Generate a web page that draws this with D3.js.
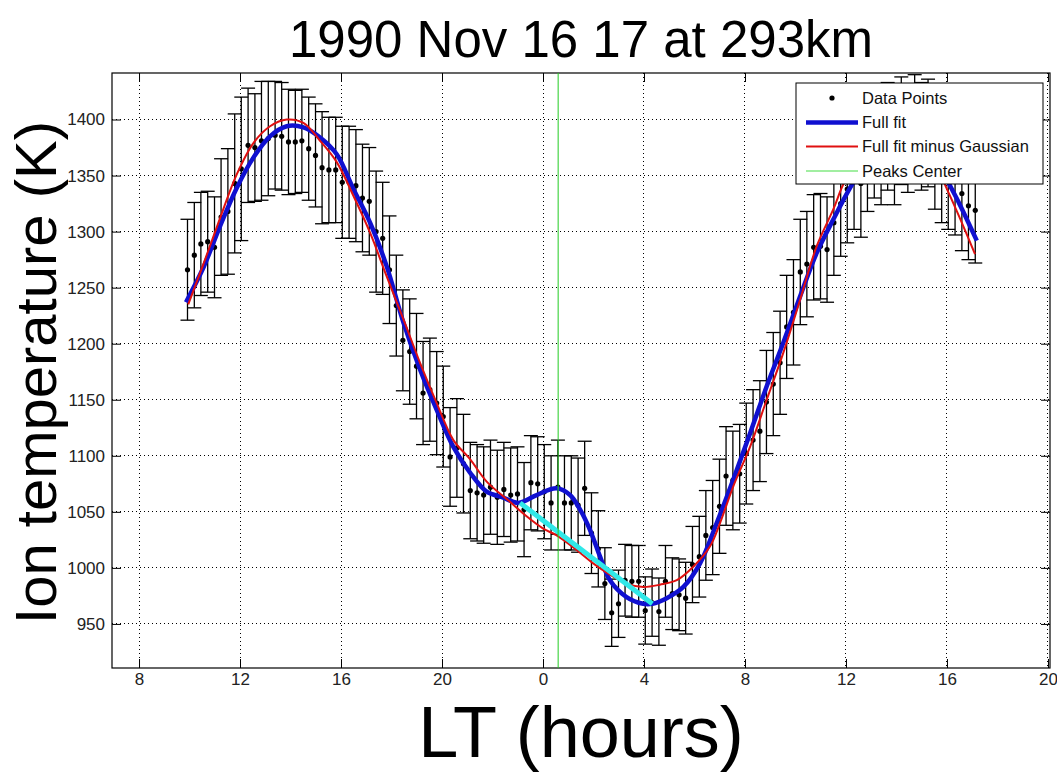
<!DOCTYPE html>
<html>
<head>
<meta charset="utf-8">
<script src="https://cdn.jsdelivr.net/npm/d3@7"></script>
<style>
  body { margin: 0; background: #fff; }
  svg text { font-family: "Liberation Sans", Arial, sans-serif; }
</style>
</head>
<body>
<div id="chart"></div>
<script>
// local time in hours (after 24 = next day)
var times = [9.92,10.19,10.45,10.72,10.99,11.25,11.52,11.79,12.05,12.32,
  12.59,12.85,13.12,13.39,13.65,13.92,14.19,14.45,14.72,14.99,
  15.25,15.52,15.79,16.05,16.32,16.59,16.85,17.12,17.39,17.65,
  17.92,18.19,18.45,18.72,18.99,19.25,19.52,19.79,20.05,20.32,
  20.59,20.85,21.12,21.39,21.65,21.92,22.19,22.45,22.72,22.99,
  23.25,23.52,23.79,24.05,24.32,24.59,24.85,25.12,25.39,25.65,
  25.92,26.19,26.45,26.72,26.99,27.25,27.52,27.79,28.05,28.32,
  28.59,28.85,29.12,29.39,29.65,29.92,30.19,30.45,30.72,30.99,
  31.25,31.52,31.79,32.05,32.32,32.59,32.85,33.12,33.39,33.65,
  33.92,34.19,34.45,34.72,34.99,35.25,35.52,35.79,36.05,36.32,
  36.59,36.85,37.12,37.39,37.65,37.92,38.19,38.45,38.72,38.99,
  39.25,39.52,39.79,40.05,40.32,40.59,40.85,41.12];

// ion temperature (K)
var temps = [1266,1279,1289,1291,1286,1313,1318,1343,1356,1377,
  1375,1381,1383,1386,1385,1380,1380,1381,1374,1368,
  1357,1355,1355,1344,1344,1341,1330,1327,1300,1294,
  1266,1234,1203,1193,1180,1156,1159,1147,1135,1099,
  1107,1093,1069,1067,1065,1072,1063,1070,1065,1066,
  1052,1076,1075,1068,1058,1072,1058,1058,1056,1071,
  1031,1017,986,960,968,989,988,988,962,969,
  961,988,977,976,973,1003,1010,1029,1036,1055,
  1082,1078,1084,1102,1114,1122,1148,1164,1183,1215,
  1228,1264,1271,1286,1287,1284,1308,1325,1338,1350,
  1343,1366,1378,1372,1385,1372,1390,1383,1392,1385,
  1388,1368,1356,1350,1345,1334,1323,1319];

// error bar half length (K)
var errs = [45,47,46,45,45,52,56,62,64,51,
  48,53,51,48,48,47,46,46,46,46,
  50,47,47,50,50,50,48,48,54,50,
  48,45,45,47,47,46,46,46,45,44,
  44,44,43,43,43,42,42,42,42,42,
  42,42,42,42,42,42,42,42,42,42,
  36,34,32,30,30,32,32,32,30,30,
  30,32,32,32,32,34,36,40,42,42,
  44,44,44,45,45,45,46,46,46,46,
  47,47,47,47,47,47,47,47,48,48,
  48,48,48,48,48,48,48,48,48,48,
  48,48,48,48,48,51,48,47];

// full fit curve
var fullFitT = [9.86,10.55,11.21,11.87,12.53,13.19,13.85,14.51,15.17,15.83,
  16.49,17.15,17.81,18.47,19.13,19.79,20.45,21.11,21.77,22.40,
  23.02,23.75,24.54,25.07,25.47,25.86,26.26,26.65,27.31,27.97,
  28.33,28.90,29.56,30.22,30.88,31.54,32.20,32.86,33.52,34.18,
  34.84,35.50,36.16,36.79,37.47,38.14,38.81,39.49,40.19,40.51,41.18];
var fullFitV = [1237,1268,1305,1339,1366,1385,1394,1393,1384,1369,
  1338,1308,1269,1219,1177,1141,1108,1085,1068,1063,
  1058,1065,1071,1065,1052,1034,1010,989,974,968,
  968,973,983,1004,1040,1079,1120,1162,1201,1242,
  1281,1311,1339,1362,1383,1394,1390,1367,1338,1324,1292];

// full fit minus Gaussian
var baseFitT = [9.95,10.55,11.21,11.87,12.53,13.19,13.85,14.51,15.17,15.83,
  16.49,17.15,17.81,18.47,19.13,19.79,20.45,21.11,21.77,22.69,
  23.35,24.01,24.54,25.33,25.99,26.65,27.31,27.97,28.63,29.30,
  29.95,30.61,31.01,31.54,32.20,32.86,33.52,34.18,34.84,35.50,
  35.89,36.55,37.35,38.02,38.73,39.33,39.92,40.51,41.11];
var baseFitV = [1235,1271,1312,1351,1379,1394,1400,1397,1381,1362,
  1332,1299,1260,1222,1183,1147,1114,1097,1077,1059,
  1046,1035,1029,1016,1004,994,986,983,985,989,
  1001,1019,1040,1073,1108,1150,1192,1239,1287,1320,
  1342,1368,1390,1400,1393,1372,1342,1312,1280];

// straight segment under the peak
var segT = [23.09, 28.33];
var segV = [1058, 968];

var peakCenter = 24.6;

var xTicks = [8, 12, 16, 20, 24, 28, 32, 36, 40, 44];
var xTickLabels = ["8", "12", "16", "20", "0", "4", "8", "12", "16", "20"];
var yTicks = [950, 1000, 1050, 1100, 1150, 1200, 1250, 1300, 1350, 1400];

var legendNames = ["Data Points", "Full fit", "Full fit minus Gaussian", "Peaks Center"];

// layout
var width = 1057, height = 774;
var pL = 112, pR = 1050, pT = 73, pB = 668;

var svg = d3.select("#chart").append("svg")
  .attr("width", width)
  .attr("height", height);

var x = d3.scaleLinear().domain([6.93, 44.08]).range([pL, pR]);
var y = d3.scaleLinear().domain([910.7, 1441.5]).range([pB, pT]);

// grid
var grid = svg.append("g").attr("stroke", "#000").attr("stroke-width", 1)
  .attr("stroke-dasharray", "1,3").attr("shape-rendering", "crispEdges");
grid.selectAll(".gx").data(xTicks).enter().append("line")
  .attr("x1", function(d) { return x(d); }).attr("x2", function(d) { return x(d); })
  .attr("y1", pT).attr("y2", pB);
grid.selectAll(".gy").data(yTicks).enter().append("line")
  .attr("x1", pL).attr("x2", pR)
  .attr("y1", function(d) { return y(d); }).attr("y2", function(d) { return y(d); });

// axes, ticks inside like matlab
var fmtX = function(d, i) { return xTickLabels[i]; };
var gB = svg.append("g").attr("transform", "translate(0," + pB + ")")
  .call(d3.axisBottom(x).tickValues(xTicks).tickFormat(fmtX).tickSizeInner(-9).tickSizeOuter(0).tickPadding(5));
var gT = svg.append("g").attr("transform", "translate(0," + pT + ")")
  .call(d3.axisTop(x).tickValues(xTicks).tickFormat("").tickSizeInner(-9).tickSizeOuter(0));
var gL = svg.append("g").attr("transform", "translate(" + pL + ",0)")
  .call(d3.axisLeft(y).tickValues(yTicks).tickFormat(d3.format("d")).tickSizeInner(-9).tickSizeOuter(0).tickPadding(7));
var gR = svg.append("g").attr("transform", "translate(" + pR + ",0)")
  .call(d3.axisRight(y).tickValues(yTicks).tickFormat("").tickSizeInner(-9).tickSizeOuter(0));

[gB, gT, gL, gR].forEach(function(g) {
  g.select(".domain").remove();
  g.selectAll("line").attr("stroke", "#000");
  g.selectAll("text").attr("font-size", 17).attr("fill", "#222")
    .attr("font-family", "'Liberation Sans', Arial, sans-serif");
});

svg.append("rect")
  .attr("x", pL).attr("y", pT)
  .attr("width", pR - pL).attr("height", pB - pT)
  .attr("fill", "none").attr("stroke", "#000").attr("stroke-width", 1.2);

var plot = svg.append("g");
var pts = times.map(function(t, i) { return { t: t, v: temps[i], e: errs[i] }; });

// error bars
var eb = plot.append("g").attr("stroke", "#000").attr("stroke-width", 1.3);
pts.forEach(function(d) {
  var cx = x(d.t), y0 = y(d.v - d.e), y1 = y(d.v + d.e);
  eb.append("line").attr("x1", cx).attr("x2", cx).attr("y1", y0).attr("y2", y1);
  eb.append("line").attr("x1", cx - 7).attr("x2", cx + 7).attr("y1", y0).attr("y2", y0);
  eb.append("line").attr("x1", cx - 7).attr("x2", cx + 7).attr("y1", y1).attr("y2", y1);
});

plot.selectAll(".dot").data(pts).enter().append("circle")
  .attr("cx", function(d) { return x(d.t); })
  .attr("cy", function(d) { return y(d.v); })
  .attr("r", 2.6).attr("fill", "#000");

var line = d3.line()
  .x(function(d) { return x(d[0]); })
  .y(function(d) { return y(d[1]); })
  .curve(d3.curveCatmullRom);

plot.append("path")
  .attr("d", line(d3.zip(fullFitT, fullFitV)))
  .attr("fill", "none").attr("stroke", "#1010d0").attr("stroke-width", 4.5);

plot.append("path")
  .attr("d", line(d3.zip(baseFitT, baseFitV)))
  .attr("fill", "none").attr("stroke", "#e01010").attr("stroke-width", 2);

plot.append("path")
  .attr("d", d3.line().x(function(d) { return x(d[0]); }).y(function(d) { return y(d[1]); })(d3.zip(segT, segV)))
  .attr("fill", "none").attr("stroke", "#30e8e8").attr("stroke-width", 5);

plot.append("line")
  .attr("x1", x(peakCenter)).attr("x2", x(peakCenter))
  .attr("y1", pT).attr("y2", pB)
  .attr("stroke", "#22cc22").attr("stroke-width", 1);

// legend
var lg = svg.append("g");
lg.append("rect").attr("x", 796).attr("y", 83).attr("width", 247).attr("height", 101)
  .attr("fill", "#fff").attr("stroke", "#000").attr("stroke-width", 1);
var rowY = [98, 122.5, 146.5, 171];
var legendColors = ["#000", "#1010d0", "#e01010", "#44dd44"];
var legendWidths = [0, 4.5, 2, 1.2];
legendNames.forEach(function(name, i) {
  if (i === 0) {
    lg.append("circle").attr("cx", 832).attr("cy", rowY[i]).attr("r", 2.6).attr("fill", "#000");
  } else {
    lg.append("line").attr("x1", 806).attr("x2", 858).attr("y1", rowY[i]).attr("y2", rowY[i])
      .attr("stroke", legendColors[i]).attr("stroke-width", legendWidths[i]);
  }
  lg.append("text").attr("x", 862).attr("y", rowY[i]).attr("dy", "0.36em")
    .attr("font-size", 16.5).attr("fill", "#111").text(name);
});

// titles
svg.append("text").attr("x", (pL + pR) / 2).attr("y", 57)
  .attr("text-anchor", "middle").attr("font-size", 51).attr("fill", "#000")
  .text("1990 Nov 16 17 at 293km");

svg.append("text")
  .attr("transform", "translate(56," + ((pT + pB) / 2 + 2) + ") rotate(-90)")
  .attr("text-anchor", "middle").attr("font-size", 58).attr("fill", "#000")
  .text("Ion temperature (K)");

svg.append("text").attr("x", (pL + pR) / 2).attr("y", 757)
  .attr("text-anchor", "middle").attr("font-size", 72).attr("fill", "#000")
  .text("LT (hours)");
</script>
</body>
</html>
